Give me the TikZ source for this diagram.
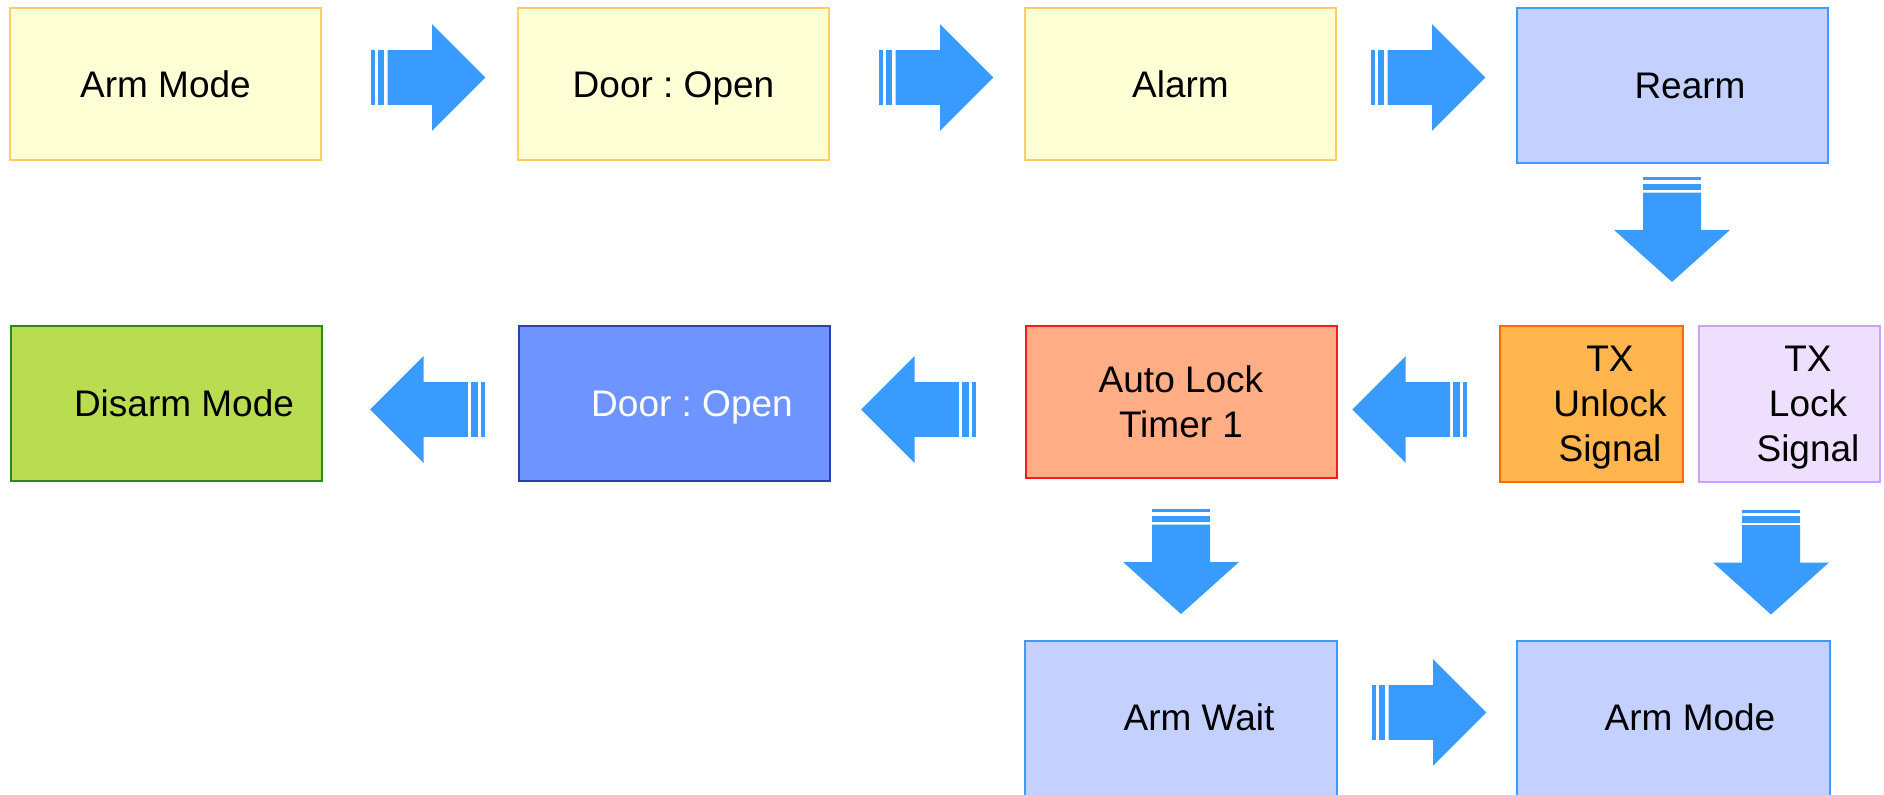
\documentclass[tikz,border=0pt]{standalone}
\usepackage{fontspec}
\setmainfont{Liberation Sans}
\usepackage{tikz}
\usetikzlibrary{calc}
\frenchspacing

\definecolor{yfill}{HTML}{FFFFD6}
\definecolor{yline}{HTML}{FFCC66}
\definecolor{bfill}{HTML}{C4D1FF}
\definecolor{bline}{HTML}{3D9BFF}
\definecolor{gfill}{HTML}{BADC50}
\definecolor{gline}{HTML}{2A8A1E}
\definecolor{dfill}{HTML}{6E95FF}
\definecolor{dline}{HTML}{2E3FA8}
\definecolor{sfill}{HTML}{FFAD85}
\definecolor{sline}{HTML}{FF1A1A}
\definecolor{ofill}{HTML}{FFB54D}
\definecolor{oline}{HTML}{FF6A00}
\definecolor{lfill}{HTML}{EFDFFF}
\definecolor{lline}{HTML}{C8A0FF}
\definecolor{flowblue}{HTML}{3A9BFF}

\newcommand{\boxfont}{\fontsize{18.5pt}{22.5pt}\selectfont}

\begin{document}
\begin{tikzpicture}[x=0.5pt, y=-0.5pt,
  box/.style={draw, line width=1pt, minimum width=155.5pt, minimum height=76pt, inner sep=0pt, align=center, font=\boxfont},
  oneline/.style={text height=13.3pt, text depth=0pt},
  every label/.style={inner sep=0pt, align=center, font=\boxfont},
  flowright/.pic={
    \fill[flowblue] (0,-27.3) rectangle (3.7,27.3);
    \fill[flowblue] (7,-27.3) rectangle (13.3,27.3);
    \fill[flowblue] (16.6,-27.3) -- (61,-27.3) -- (61,-53.4) -- (114.4,0) -- (61,53.4) -- (61,27.3) -- (16.6,27.3) -- cycle;
  },
  flowdown/.pic={
    \fill[flowblue] (-29,0) rectangle (29,3);
    \fill[flowblue] (-29,6.7) rectangle (29,13);
    \fill[flowblue] (-29,15.7) -- (-29,53) -- (-58,53) -- (0,105) -- (58,53) -- (29,53) -- (29,15.7) -- cycle;
  }]
  \useasboundingbox (0,0) rectangle (1884,794);
  \clip (0,0) rectangle (1884,794);

  \node[box, oneline, fill=yfill, draw=yline] (AM1) at (165.5,84) {Arm Mode};
  \node[box, oneline, fill=yfill, draw=yline] (DO1) at (673.5,84) {Door : Open};
  \node[box, oneline, fill=yfill, draw=yline] (AL) at (1180.5,84) {Alarm};
  \node[box, fill=bfill, draw=bline, minimum height=77.3pt,
    label={[xshift=9pt, oneline]center:Rearm}] (RE) at (1672,85.3) {};

  \node[box, fill=gfill, draw=gline, minimum height=77.5pt,
    label={[xshift=9pt, oneline]center:Disarm Mode}] (DM) at (166,403.5) {};
  \node[box, fill=dfill, draw=dline, minimum height=77.5pt,
    label={[xshift=9pt, oneline, text=white]center:{Door : Open}}] (DO2) at (674,403.5) {};
  \node[box, fill=sfill, draw=sline] (AT) at (1181,402) {Auto Lock\\Timer 1};
  \node[box, fill=ofill, draw=oline, minimum width=91.5pt, minimum height=78pt,
    label={[xshift=9.25pt, yshift=-1.9pt]center:TX\\Unlock\\Signal}] (TU) at (1591.5,404) {};
  \node[box, fill=lfill, draw=lline, minimum width=90.5pt, minimum height=78pt,
    label={[xshift=9.25pt, yshift=-1.9pt]center:TX\\Lock\\Signal}] (TL) at (1789.5,404) {};

  \node[box, fill=bfill, draw=bline, minimum width=156pt, minimum height=80pt,
    label={[xshift=9pt, yshift=1.75pt, oneline]center:Arm Wait}] (AW) at (1181,721) {};
  \node[box, fill=bfill, draw=bline, minimum width=156.5pt, minimum height=80pt,
    label={[xshift=8.5pt, yshift=1.75pt, oneline]center:Arm Mode}] (AM2) at (1673,721) {};

  \pic at ($(AM1.east)+(49,-6.5)$) {flowright};
  \pic at ($(DO1.east)+(49,-6.5)$) {flowright};
  \pic at ($(AL.east)+(34,-6.5)$) {flowright};
  \pic at ($(RE.south)+(0,13.3)$) {flowdown};

  \pic[rotate=180] at ($(TU.west)+(-32.3,5.5)$) {flowright};
  \pic[rotate=180] at ($(AT.west)+(-49,7.5)$) {flowright};
  \pic[rotate=180] at ($(DO2.west)+(-33,6)$) {flowright};

  \pic at ($(AT.south)+(0,30)$) {flowdown};
  \pic at ($(TL.south)+(-18.5,26.5)$) {flowdown};
  \pic at ($(AW.east)+(34,-8.5)$) {flowright};
\end{tikzpicture}
\end{document}
